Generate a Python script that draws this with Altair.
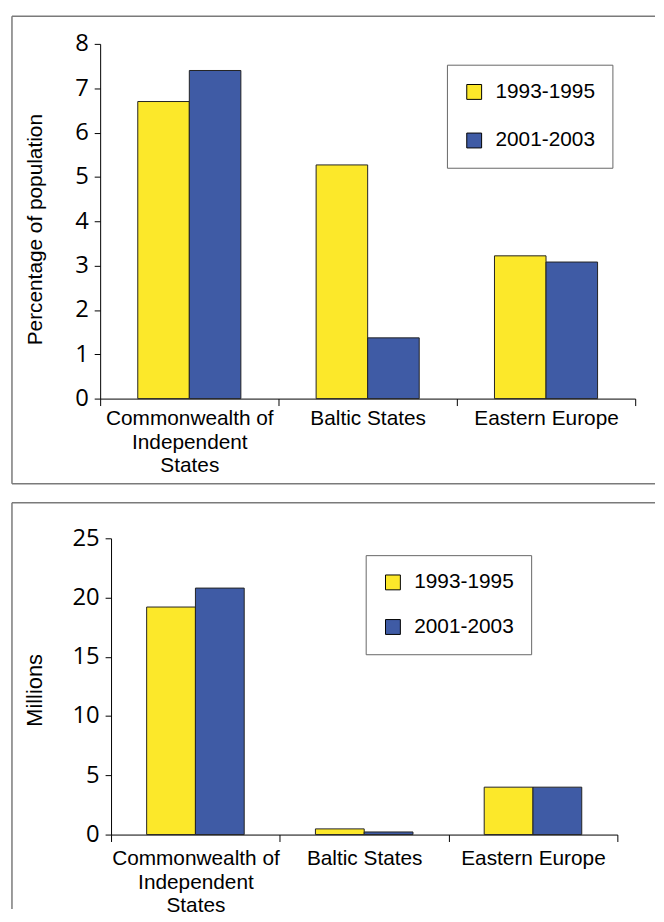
import altair as alt
import pandas as pd

regions = ["Commonwealth of Independent States", "Baltic States", "Eastern Europe"]
periods = ["1993-1995", "2001-2003"]
pct_1993 = [6.7, 5.27, 3.22]
pct_2001 = [7.4, 1.37, 3.08]
mil_1993 = [19.2, 0.48, 4.0]
mil_2001 = [20.8, 0.22, 4.0]
colors = ["#FCE82A", "#3F5BA5"]


def make_df(a, b):
    rows = []
    for r, v1, v2 in zip(regions, a, b):
        rows.append({"region": r, "period": periods[0], "value": v1})
        rows.append({"region": r, "period": periods[1], "value": v2})
    return pd.DataFrame(rows)


label_expr = ("datum.label == 'Commonwealth of Independent States' ? "
              "['Commonwealth of', 'Independent', 'States'] : datum.label")

FRAME = "#7a7a7a"


def panel(df, W, H, x0, ymax, ystep, ytitle, tsize, tx, ty, xlpad,
          legx, legy, legrow, frame):
    fl, ft, fr, fb, draw_bottom = frame
    x = alt.X("region:N", sort=regions, title=None,
              scale=alt.Scale(paddingInner=0, paddingOuter=0, range=[x0, W]),
              axis=alt.Axis(tickBand="extent", labelExpr=label_expr, labelAngle=0,
                            labelFont="Liberation Sans", labelFontSize=21,
                            labelColor="black", labelLineHeight=24,
                            labelPadding=xlpad, tickSize=7, tickColor="black",
                            domainColor="black", labelBaseline="top",
                            labelOverlap=False, labelLimit=300))
    xo = alt.XOffset("period:N", sort=periods,
                     scale=alt.Scale(paddingOuter=0.73, paddingInner=0))
    y = alt.Y("value:Q",
              scale=alt.Scale(domain=[0, ymax], nice=False),
              axis=alt.Axis(values=list(range(0, ymax + 1, ystep)), grid=False,
                            offset=-x0,
                            labelFont="Open Sans", labelFontSize=24,
                            labelColor="black", tickSize=6, labelPadding=6,
                            tickColor="black", domainColor="black",
                            title=ytitle, titleFont="Liberation Sans",
                            titleFontSize=tsize, titleFontWeight="normal",
                            titleColor="black", titleX=tx, titleY=ty,
                            titleBaseline="alphabetic", titleAlign="center",
                            titleAngle=270))
    color = alt.Color("period:N", sort=periods,
                      scale=alt.Scale(domain=periods, range=colors),
                      legend=alt.Legend(title=None, orient="none",
                                        legendX=legx, legendY=legy,
                                        rowPadding=legrow))
    bars = alt.Chart(df).mark_bar(stroke="#222222", strokeWidth=1).encode(
        x=x, xOffset=xo, y=y, color=color)

    one = pd.DataFrame({"k": [0]})
    rule = alt.Chart(one).mark_rule(color=FRAME, strokeWidth=1.5)
    layers = [
        bars,
        rule.encode(x=alt.value(fl), x2=alt.value(fr), y=alt.value(ft)),
        rule.encode(x=alt.value(fl), y=alt.value(ft), y2=alt.value(fb)),
    ]
    if draw_bottom:
        layers.append(rule.encode(x=alt.value(fl), x2=alt.value(fr), y=alt.value(fb)))
    return alt.layer(*layers).properties(width=W, height=H)


top = panel(make_df(pct_1993, pct_2001), 540, 358, 0, 8, 1,
            "Percentage of population", 21, -59, 187, 2, 350, 21, 27,
            (-89, -28, 560, 444, True))
bottom = panel(make_df(mil_1993, mil_2001), 522, 299, 11, 25, 5,
               "Millions", 22, -70, 153, 6, 268, 17, 23,
               (-89, -36, 560, 374, False))

chart = alt.vconcat(top, bottom, spacing=17, bounds="full").resolve_scale(
    x="independent", y="independent", color="independent", xOffset="independent"
).properties(
    padding={"left": 3, "top": 3, "right": 0, "bottom": 0}
).configure_view(stroke=None).configure_legend(
    strokeColor="#666666", fillColor="white", padding=17,
    symbolType="square", symbolSize=225, symbolStrokeColor="black",
    symbolStrokeWidth=1, symbolOpacity=1,
    labelFont="Liberation Sans", labelFontSize=21, labelColor="black",
    labelOffset=11, labelLimit=300
)

chart.save("out.html", embed_options={"renderer": "svg", "actions": False})
